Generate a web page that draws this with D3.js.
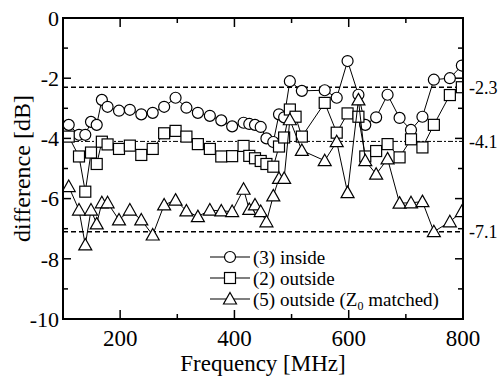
<!DOCTYPE html>
<html>
<head>
<meta charset="utf-8">
<script src="https://cdn.jsdelivr.net/npm/d3@7"></script>
<style>
  html, body { margin: 0; padding: 0; background: #fff; }
  svg { display: block; font-family: "Liberation Serif", "Times New Roman", serif; }
  text { fill: #000; }
</style>
</head>
<body>
<svg id="chart" width="499" height="381"></svg>
<script>
// Frequency points [MHz] shared by the three series (null = no marker there)
const freq = [110, 128, 139, 149, 159, 168, 178, 198, 217, 237, 257, 277, 297, 316, 336, 357, 377, 396,
  416, 426, 436, 446, 456, 468, 478, 487, 497, 507, 518, 558, 579, 598, 617, 629, 648, 668, 689, 709,
  729, 749, 777, 798];

// (3) inside
const inside = [-3.55, -3.88, -3.88, -3.45, -3.55, -2.72, -2.95, -3.08, -3.05, -3.2, -3.15, -2.95, -2.65,
  -2.98, -3.15, -3.25, -3.4, -3.6, -3.48, -3.52, -3.55, -3.62, -4.0, -4.12, -3.2, -3.3, -2.1, null,
  -2.42, -2.4, -2.65, -1.43, -2.55, -3.55, -3.3, -2.55, -3.32, -3.72, -3.28, -2.05, -2.0, -1.58];

// (2) outside
const outside = [-3.94, -4.6, -5.77, -4.47, -4.85, -4.11, -4.2, -4.35, -4.24, -4.55, -4.35, -3.83, -3.75,
  -3.94, -4.19, -4.35, -4.6, -4.59, -4.25, -4.58, -4.66, -4.75, -4.85, -4.94, -4.27, -3.97, -3.04, -3.28,
  -3.94, -2.82, -3.81, -3.17, -3.28, -4.6, -4.42, -4.19, -4.63, -4.03, -4.3, -3.55, -2.56, -2.3];

// (5) outside (Z0 matched)
const matched = [-5.6, -6.38, -7.54, -6.38, -6.84, -6.14, -6.14, -6.71, -6.38, -6.71, -7.21, -6.21, -6.05,
  -6.41, -6.6, -6.38, -6.41, -6.43, -5.69, -6.36, -6.21, -6.43, -6.77, -5.91, -5.33, -5.33, -3.38, null,
  -4.4, -4.74, -4.11, -5.8, -2.72, -4.74, -5.19, -4.68, -6.15, -6.14, -6.1, -7.1, -6.77, -6.43];

// reference levels drawn as dashed lines
const refLevels = [-2.3, -4.1, -7.1];
const refLabels = ["-2.3", "-4.1", "-7.1"];

const xTicksMajor = [200, 400, 600, 800];
const xTicksMinor = [300, 500, 700];
const yTicksMajor = [0, -2, -4, -6, -8, -10];
const yTicksMinor = [-1, -3, -5, -7, -9];

const series = [
  { name: "(3) inside", values: inside, marker: "circle" },
  { name: "(2) outside", values: outside, marker: "square" },
  { name: "(5) outside (Z", sub: "0", tail: " matched)", values: matched, marker: "triangle" }
];

const svg = d3.select("#chart");
const plot = { left: 63, right: 463, top: 18, bottom: 319 };

const x = d3.scaleLinear().domain([100, 800]).range([plot.left, plot.right]);
const y = d3.scaleLinear().domain([-10, 0]).range([plot.bottom, plot.top]);

svg.append("defs").append("clipPath").attr("id", "plotclip")
  .append("rect")
  .attr("x", plot.left).attr("y", plot.top)
  .attr("width", plot.right - plot.left).attr("height", plot.bottom - plot.top);

// reference lines
const refG = svg.append("g");
refLevels.forEach((v, i) => {
  refG.append("line")
    .attr("x1", plot.left).attr("x2", plot.right)
    .attr("y1", y(v)).attr("y2", y(v))
    .attr("stroke", "#000")
    .attr("stroke-width", i === 1 ? 1 : 1.5)
    .attr("stroke-dasharray", i === 1 ? "5,2,2,2" : "5,3");
  refG.append("text")
    .attr("x", plot.right + 6)
    .attr("y", y(v))
    .attr("dy", "0.35em")
    .attr("font-size", 18)
    .text(refLabels[i]);
});

function drawMarker(g, type, cx, cy) {
  if (type === "circle") {
    g.append("circle").attr("cx", cx).attr("cy", cy).attr("r", 5.5);
  } else if (type === "square") {
    g.append("rect").attr("x", cx - 5.5).attr("y", cy - 5.5).attr("width", 11).attr("height", 11);
  } else {
    g.append("path").attr("d", `M${cx},${cy - 6.5}L${cx + 6.5},${cy + 5}L${cx - 6.5},${cy + 5}Z`);
  }
}

const line = d3.line()
  .x(d => x(d[0]))
  .y(d => y(d[1]));

const dataG = svg.append("g").attr("clip-path", "url(#plotclip)");

series.forEach(s => {
  const pts = freq.map((f, i) => [f, s.values[i]]).filter(d => d[1] !== null);
  const g = dataG.append("g");
  g.append("path")
    .datum(pts)
    .attr("fill", "none")
    .attr("stroke", "#000")
    .attr("stroke-width", 1)
    .attr("d", line);
  const mg = g.append("g").attr("fill", "#fff").attr("stroke", "#000").attr("stroke-width", 1.2);
  pts.forEach(d => drawMarker(mg, s.marker, x(d[0]), y(d[1])));
});

// frame
svg.append("rect")
  .attr("x", plot.left).attr("y", plot.top)
  .attr("width", plot.right - plot.left).attr("height", plot.bottom - plot.top)
  .attr("fill", "none")
  .attr("stroke", "#000")
  .attr("stroke-width", 2);

// inward ticks on all four sides
const tickG = svg.append("g").attr("stroke", "#000").attr("stroke-width", 1.5);
xTicksMajor.concat(xTicksMinor).forEach(t => {
  const len = xTicksMajor.includes(t) ? 9 : 5;
  tickG.append("line").attr("x1", x(t)).attr("x2", x(t)).attr("y1", plot.bottom).attr("y2", plot.bottom - len);
  tickG.append("line").attr("x1", x(t)).attr("x2", x(t)).attr("y1", plot.top).attr("y2", plot.top + len);
});
yTicksMajor.concat(yTicksMinor).forEach(t => {
  const len = yTicksMajor.includes(t) ? 8 : 5;
  tickG.append("line").attr("x1", plot.left).attr("x2", plot.left + len).attr("y1", y(t)).attr("y2", y(t));
  tickG.append("line").attr("x1", plot.right).attr("x2", plot.right - len).attr("y1", y(t)).attr("y2", y(t));
});

// tick labels
svg.append("g").selectAll("text")
  .data(xTicksMajor)
  .join("text")
  .attr("x", d => x(d))
  .attr("y", plot.bottom + 27)
  .attr("text-anchor", "middle")
  .attr("font-size", 23)
  .text(d => d);

svg.append("g").selectAll("text")
  .data(yTicksMajor)
  .join("text")
  .attr("x", plot.left - 4)
  .attr("y", d => y(d))
  .attr("dy", "0.35em")
  .attr("text-anchor", "end")
  .attr("font-size", 22)
  .text(d => d);

// axis titles
svg.append("text")
  .attr("x", (plot.left + plot.right) / 2)
  .attr("y", 371)
  .attr("text-anchor", "middle")
  .attr("font-size", 23)
  .text("Frequency [MHz]");

svg.append("text")
  .attr("transform", `translate(22,${(plot.top + plot.bottom) / 2}) rotate(-90)`)
  .attr("text-anchor", "middle")
  .attr("dy", "0.35em")
  .attr("font-size", 24)
  .text("difference [dB]");

// legend
const legend = svg.append("g").attr("transform", "translate(210,257)");
series.forEach((s, i) => {
  const ly = i * 21;
  legend.append("line")
    .attr("x1", 0).attr("x2", 40)
    .attr("y1", ly).attr("y2", ly)
    .attr("stroke", "#000").attr("stroke-width", 1.2);
  const mg = legend.append("g").attr("fill", "#fff").attr("stroke", "#000").attr("stroke-width", 1.2);
  drawMarker(mg, s.marker, 20, ly);
  const t = legend.append("text")
    .attr("x", 43)
    .attr("y", ly)
    .attr("dy", "0.35em")
    .attr("font-size", 19)
    .text(s.name);
  if (s.sub) {
    t.append("tspan").attr("font-size", 12).attr("dy", 4).text(s.sub);
    t.append("tspan").attr("dy", -4).text(s.tail);
  }
});
</script>
</body>
</html>
